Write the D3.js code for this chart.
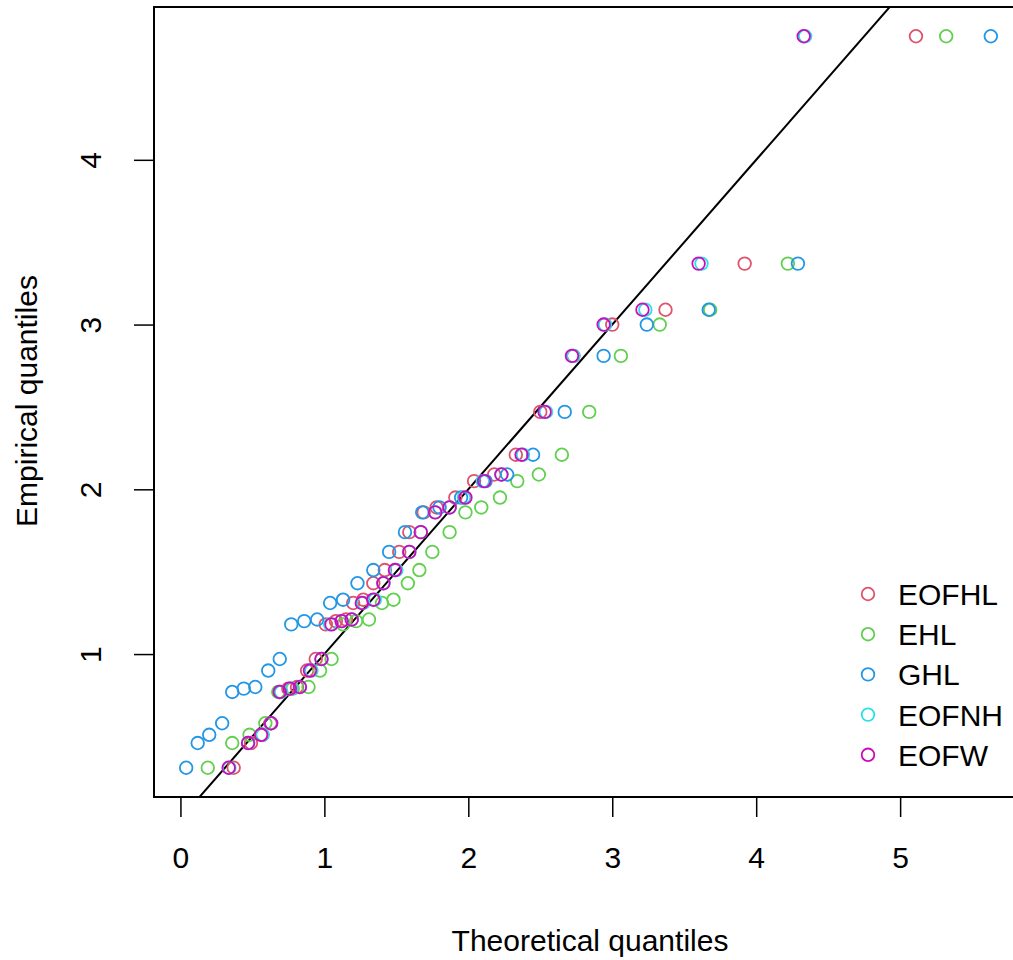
<!DOCTYPE html>
<html>
<head>
<meta charset="utf-8">
<script src="https://cdn.jsdelivr.net/npm/d3@7"></script>
<style>
  body { margin: 0; background: #fff; }
  text { font-family: "Liberation Sans", Arial, sans-serif; }
</style>
</head>
<body>
<div id="qq-plot"></div>
<script>
// Empirical quantiles (shared by every fitted model)
var empirical = [0.31, 0.46, 0.51, 0.58, 0.77, 0.79, 0.80, 0.90, 0.97, 1.18,
                 1.20, 1.21, 1.31, 1.33, 1.43, 1.51, 1.62, 1.74, 1.86, 1.89,
                 1.95, 2.05, 2.09, 2.21, 2.47, 2.81, 3.00, 3.09, 3.37, 4.75];

// Theoretical quantiles for each model
var eofhl = [0.37, 0.49, 0.57, 0.625, 0.69, 0.75, 0.81, 0.88, 0.94, 1.01,
             1.08, 1.15, 1.20, 1.27, 1.34, 1.42, 1.52, 1.59, 1.69, 1.78,
             1.91, 2.04, 2.18, 2.33, 2.50, 2.73, 3.00, 3.37, 3.92, 5.11];
var ehl = [0.19, 0.36, 0.48, 0.59, 0.68, 0.78, 0.89, 0.97, 1.05, 1.13,
           1.22, 1.31, 1.40, 1.48, 1.58, 1.66, 1.75, 1.87, 1.98, 2.09,
           2.22, 2.34, 2.49, 2.65, 2.84, 3.06, 3.33, 3.68, 4.22, 5.32];
var ghl = [0.04, 0.12, 0.20, 0.29, 0.36, 0.44, 0.52, 0.61, 0.69, 0.77,
           0.86, 0.95, 1.04, 1.13, 1.23, 1.34, 1.45, 1.56, 1.68, 1.80,
           1.95, 2.12, 2.27, 2.45, 2.67, 2.94, 3.24, 3.67, 4.29, 5.63];
var eofnh = [0.34, 0.47, 0.57, 0.63, 0.70, 0.77, 0.83, 0.91, 0.98, 1.04,
             1.12, 1.19, 1.27, 1.35, 1.41, 1.50, 1.59, 1.67, 1.77, 1.87,
             1.97, 2.10, 2.23, 2.38, 2.54, 2.73, 2.95, 3.23, 3.62, 4.34];
var eofw = [0.335, 0.47, 0.56, 0.63, 0.69, 0.76, 0.83, 0.90, 0.98, 1.05,
            1.12, 1.19, 1.26, 1.34, 1.41, 1.49, 1.59, 1.67, 1.77, 1.87,
            1.98, 2.11, 2.23, 2.37, 2.53, 2.72, 2.94, 3.21, 3.60, 4.33];

var seriesNames = ["EOFHL", "EHL", "GHL", "EOFNH", "EOFW"];
var seriesColors = ["#DF536B", "#61D04F", "#2297E6", "#28E2E5", "#CD0BBC"];
var seriesX = [eofhl, ehl, ghl, eofnh, eofw];

var xTicks = [0, 1, 2, 3, 4, 5];
var yTicks = [1, 2, 3, 4];

// reference line y = a + b x
var lineIntercept = 0;
var lineSlope = 1;

var W = 1013, H = 960;
var box = { left: 154, right: 1023, top: 7, bottom: 797 };

var svg = d3.select("#qq-plot")
    .append("svg")
    .attr("width", W)
    .attr("height", H);

// R style 4% padding on the data range
var allX = d3.merge(seriesX);
var xExt = d3.extent(allX), yExt = d3.extent(empirical);
var xPad = (xExt[1] - xExt[0]) * 0.04, yPad = (yExt[1] - yExt[0]) * 0.04;

var xScale = d3.scaleLinear()
    .domain([xExt[0] - xPad, xExt[1] + xPad])
    .range([box.left, box.right]);

var yScale = d3.scaleLinear()
    .domain([yExt[0] - yPad, yExt[1] + yPad])
    .range([box.bottom, box.top]);

svg.append("clipPath").attr("id", "clip")
    .append("rect")
    .attr("x", box.left).attr("y", box.top)
    .attr("width", box.right - box.left)
    .attr("height", box.bottom - box.top);

// axes
var xAxis = svg.append("g")
    .attr("transform", "translate(0," + box.bottom + ")")
    .call(d3.axisBottom(xScale).tickValues(xTicks).tickSize(20).tickPadding(30).tickFormat(d3.format("d")));
xAxis.select(".domain").remove();
xAxis.selectAll("line").attr("stroke", "#000").attr("stroke-width", 1.5);
xAxis.selectAll("text").attr("font-size", 30).attr("fill", "#000")
    .attr("font-family", "Liberation Sans, Arial, sans-serif");

var yAxis = svg.append("g")
    .attr("transform", "translate(" + box.left + ",0)")
    .call(d3.axisLeft(yScale).tickValues(yTicks).tickSize(20).tickFormat(d3.format("d")));
yAxis.select(".domain").remove();
yAxis.selectAll("line").attr("stroke", "#000").attr("stroke-width", 1.5);
yAxis.selectAll("text")
    .attr("font-size", 30).attr("fill", "#000")
    .attr("font-family", "Liberation Sans, Arial, sans-serif")
    .attr("x", null).attr("dy", null)
    .attr("text-anchor", "middle")
    .attr("transform", "translate(-53,0) rotate(-90)")
    .attr("y", 0);

// box
svg.append("rect")
    .attr("x", box.left).attr("y", box.top)
    .attr("width", box.right - box.left)
    .attr("height", box.bottom - box.top)
    .attr("fill", "none")
    .attr("stroke", "#000")
    .attr("stroke-width", 2);

// reference line
var xd = xScale.domain();
svg.append("line")
    .attr("clip-path", "url(#clip)")
    .attr("x1", xScale(xd[0])).attr("y1", yScale(lineIntercept + lineSlope * xd[0]))
    .attr("x2", xScale(xd[1])).attr("y2", yScale(lineIntercept + lineSlope * xd[1]))
    .attr("stroke", "#000")
    .attr("stroke-width", 2);

// points
seriesX.forEach(function(xs, i) {
    svg.append("g")
        .selectAll("circle")
        .data(xs.map(function(x, j) { return { x: x, y: empirical[j] }; }))
        .enter()
        .append("circle")
        .attr("cx", function(d) { return xScale(d.x); })
        .attr("cy", function(d) { return yScale(d.y); })
        .attr("r", 6.3)
        .attr("fill", "none")
        .attr("stroke", seriesColors[i])
        .attr("stroke-width", 1.8);
});

// legend
var legend = svg.append("g");
seriesNames.forEach(function(name, i) {
    var cy = 594 + i * 40.2;
    legend.append("circle")
        .attr("cx", 868).attr("cy", cy).attr("r", 6.3)
        .attr("fill", "none").attr("stroke", seriesColors[i]).attr("stroke-width", 1.8);
    legend.append("text")
        .attr("x", 898).attr("y", cy + 11)
        .attr("font-size", 30)
        .text(name);
});

// titles
svg.append("text")
    .attr("x", 590).attr("y", 951)
    .attr("text-anchor", "middle")
    .attr("font-size", 30)
    .text("Theoretical quantiles");

svg.append("text")
    .attr("transform", "translate(37,401) rotate(-90)")
    .attr("text-anchor", "middle")
    .attr("font-size", 30)
    .text("Empirical quantiles");
</script>
</body>
</html>
